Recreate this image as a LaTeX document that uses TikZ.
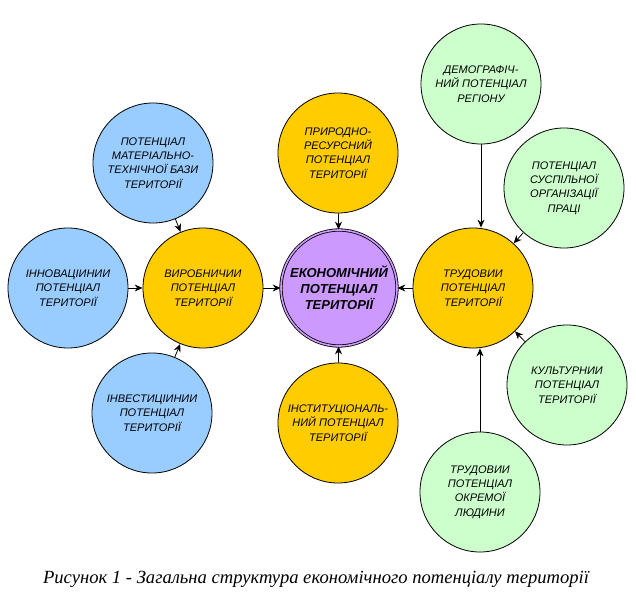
\documentclass[tikz,border=0pt]{standalone}
\usepackage{fontspec}
\setmainfont{Liberation Serif}
\setsansfont{Liberation Sans}
\usetikzlibrary{arrows.meta}
\definecolor{cblue}{HTML}{99CCFF}
\definecolor{cyellow}{HTML}{FFCC00}
\definecolor{cviolet}{HTML}{CC99FF}
\definecolor{cgreen}{HTML}{CCFFCC}
\tikzset{
  potnode/.style={circle, draw=black, line width=0.8pt, minimum size=120pt, inner sep=0pt, align=center,
    font=\sffamily\itshape\fontsize{11}{14.3}\selectfont},
  bluenode/.style={potnode, fill=cblue},
  yellownode/.style={potnode, fill=cyellow},
  greennode/.style={potnode, fill=cgreen},
  mainnode/.style={circle, draw=black, line width=0.8pt, double=cviolet, double distance=1.6pt, fill=cviolet,
    minimum size=116pt, inner sep=0pt, align=center,
    font=\sffamily\bfseries\itshape\fontsize{13}{16}\selectfont},
  conn/.style={-{Stealth[length=8pt,width=7pt]}, line width=0.8pt, black}
}
\begin{document}
\begin{tikzpicture}[x=1pt,y=-1pt]
\useasboundingbox (0,0) rectangle (636,612);
\node[mainnode] (eco) at (339,288) {ЕКОНОМІЧНИЙ\\ПОТЕНЦІАЛ\\ТЕРИТОРІЇ};
\node[yellownode] (vyr) at (203,288) {ВИРОБНИЧИИ\\ПОТЕНЦІАЛ\\ТЕРИТОРІЇ};
\node[yellownode] (pryr) at (338,153) {ПРИРОДНО-\\РЕСУРСНИЙ\\ПОТЕНЦІАЛ\\ТЕРИТОРІЇ};
\node[yellownode] (inst) at (338,423) {ІНСТИТУЦІОНАЛЬ-\\НИЙ ПОТЕНЦІАЛ\\ТЕРИТОРІЇ};
\node[yellownode] (trud) at (473,288) {ТРУДОВИИ\\ПОТЕНЦІАЛ\\ТЕРИТОРІЇ};
\node[bluenode] (mat) at (153,163) {ПОТЕНЦІАЛ\\МАТЕРІАЛЬНО-\\ТЕХНІЧНОЇ БАЗИ\\ТЕРИТОРІЇ};
\node[bluenode] (inn) at (68,288) {ІННОВАЦІИНИИ\\ПОТЕНЦІАЛ\\ТЕРИТОРІЇ};
\node[bluenode] (inv) at (152,413) {ІНВЕСТИЦІИНИИ\\ПОТЕНЦІАЛ\\ТЕРИТОРІЇ};
\node[greennode] (dem) at (481,84) {ДЕМОГРАФІЧ-\\НИЙ ПОТЕНЦІАЛ\\РЕГІОНУ};
\node[greennode] (susp) at (564,188) {ПОТЕНЦІАЛ\\СУСПІЛЬНОЇ\\ОРГАНІЗАЦІЇ\\ПРАЦІ};
\node[greennode] (kult) at (567,385) {КУЛЬТУРНИИ\\ПОТЕНЦІАЛ\\ТЕРИТОРІЇ};
\node[greennode] (okr) at (480,492) {ТРУДОВИИ\\ПОТЕНЦІАЛ\\ОКРЕМОЇ\\ЛЮДИНИ};
\draw[conn] (vyr) -- (eco);
\draw[conn] (pryr) -- (eco);
\draw[conn] (inst) -- (eco);
\draw[conn] (trud) -- (eco);
\draw[conn] (mat) -- (vyr);
\draw[conn] (inn) -- (vyr);
\draw[conn] (inv) -- (vyr);
\draw[conn] (dem.south) -- (dem.south |- trud.north);
\draw[conn] (susp) -- (trud);
\draw[conn] (kult) -- (trud);
\draw[conn] (okr.north) -- (okr.north |- trud.south);
\node[font=\itshape\fontsize{18.6}{22}\selectfont] (cap) at (316,579) {Рисунок 1 - Загальна структура економічного потенціалу території};
\end{tikzpicture}
\end{document}
